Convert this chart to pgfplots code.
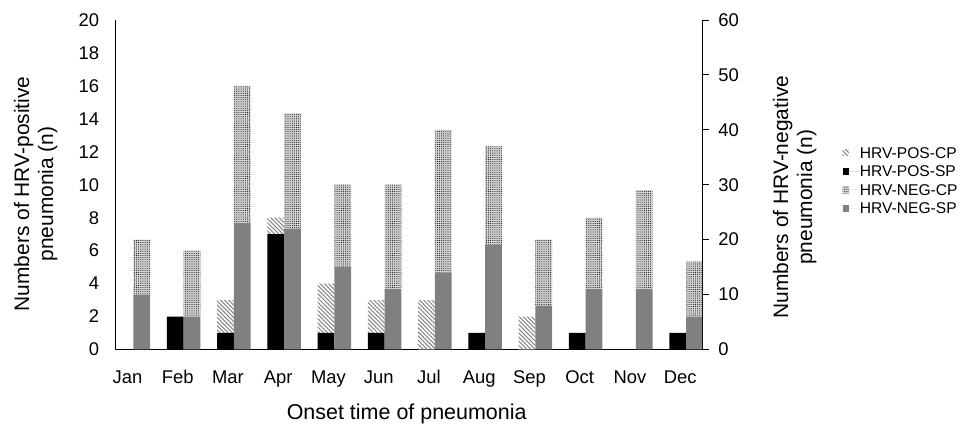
\documentclass[border=0pt]{standalone}
\usepackage{fontspec}
\setmainfont{Liberation Sans}
\usepackage{pgfplots}
\usepackage{pgfplotstable}
\pgfplotsset{compat=1.18}
\usetikzlibrary{patterns,patterns.meta}

\pgfplotstableread{
m posSP posCP negSP negCP
0  0 0 10 10
1  2 0  6 12
2  1 2 23 25
3  7 1 22 21
4  1 3 15 15
5  1 2 11 19
6  0 3 14 26
7  1 0 19 18
8  0 2  8 12
9  1 0 11 13
10 0 0 11 18
11 1 0  6 10
}\datatable

\tikzset{
  sPosCP/.style={draw=none, fill=white, postaction={pattern={Lines[angle=-45,distance=2.2pt,line width=0.8pt]}, pattern color=gray!95}},
  sPosSP/.style={draw=none, fill=black},
  sNegCP/.style={draw=none, fill=gray!35, postaction={pattern={Dots[distance=1.6pt,radius=0.38pt]}, pattern color=black}},
  sNegSP/.style={draw=none, fill=gray},
  xlblfont/.style={font=\fontsize{16.1}{18}\selectfont, align=center},
  ylblfont/.style={font=\fontsize{15.7}{18}\selectfont, align=center},
}

\pgfplotsset{
  common/.style={
    scale only axis,
    width=439.9pt, height=247.1pt,
    at={(86.6pt,55.9pt)}, anchor=south west,
    xmin=-0.2388, xmax=11.433,
    bar width=0.332, bar shift=0pt,
    ybar stacked,
    axis line style={line width=0.75pt, black},
    /pgf/number format/assume math mode=true,
    tick label style={font=\fontsize{13.8}{16}\selectfont, inner sep=0pt},
  },
}

\begin{document}
\begin{tikzpicture}
\useasboundingbox (0,0) rectangle (722.25pt,318pt);
% left axis: HRV-positive
\begin{axis}[common,
  axis x line*=bottom, axis y line*=left,
  ymin=0, ymax=20, ytick={0,2,...,20},
  major tick length=0pt,
  xtick={0,...,11},
  xticklabels={Jan,Feb,Mar,Apr,May,Jun,Jul,Aug,Sep,Oct,Nov,Dec},
  xticklabel style={anchor=base, yshift=-25.9pt},
  yticklabel style={anchor=east, xshift=-12pt},
  xlabel={Onset time of pneumonia},
  ylabel={Numbers of HRV-positive\\pneumonia (n)},
  every axis x label/.style={at={(axis description cs:0.4965,-0.214)}, anchor=base, xlblfont},
  every axis y label/.style={at={(axis description cs:-0.136,0.472)}, rotate=90, anchor=center, ylblfont},
]
\addplot[sPosSP] table[x expr=\thisrow{m}-0.0498, y=posSP] {\datatable};
\addplot[sPosCP] table[x expr=\thisrow{m}-0.0498, y=posCP] {\datatable};
\end{axis}
% right axis: HRV-negative
\begin{axis}[common,
  axis x line=none, axis y line*=right,
  ymin=0, ymax=60, ytick={0,10,...,60},
  tick align=outside, major tick length=5pt,
  tick style={line width=0.75pt, black},
  yticklabel style={anchor=west, xshift=7pt},
  ylabel={Numbers of HRV-negative\\pneumonia (n)},
  every axis y label/.style={at={(axis description cs:1.158,0.462)}, rotate=90, anchor=center, ylblfont},
  legend cell align=left,
  legend image code/.code={\path[#1] (0pt,-2.5pt) rectangle (5pt,2.5pt); \path (0pt,0pt) -- (13pt,0pt);},
  legend style={at={(axis description cs:1.2396,0.513)}, anchor=west, draw=none, fill=none,
    inner sep=0pt, outer sep=0pt, row sep=5.5pt,
    font=\fontsize{11.7}{13}\selectfont,
    nodes={inner sep=0pt, text height=8.4pt, text depth=0pt}},
]
\addlegendimage{sPosCP}\addlegendentry{HRV-POS-CP}
\addlegendimage{sPosSP}\addlegendentry{HRV-POS-SP}
\addlegendimage{sNegCP}\addlegendentry{HRV-NEG-CP}
\addlegendimage{sNegSP}\addlegendentry{HRV-NEG-SP}
\addplot[sNegSP, forget plot] table[x expr=\thisrow{m}+0.2826, y=negSP] {\datatable};
\addplot[sNegCP, forget plot] table[x expr=\thisrow{m}+0.2826, y=negCP] {\datatable};
\end{axis}
\end{tikzpicture}
\end{document}
